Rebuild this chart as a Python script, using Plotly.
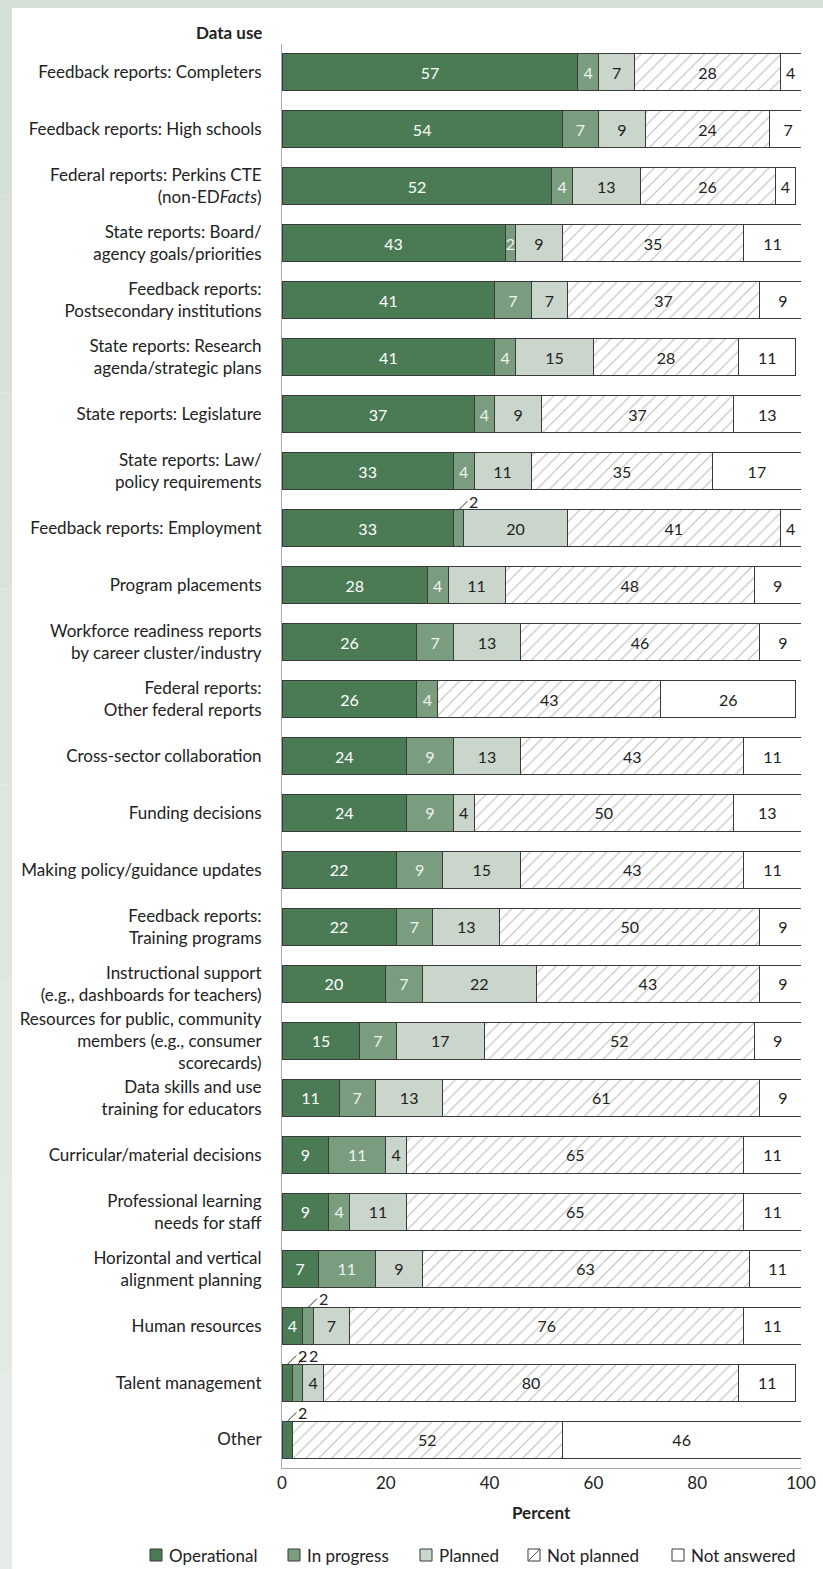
import plotly.graph_objects as go

categories = [
    "Feedback reports: Completers",
    "Feedback reports: High schools",
    "Federal reports: Perkins CTE<br>(non-ED<i>Facts</i>)",
    "State reports: Board/<br>agency goals/priorities",
    "Feedback reports:<br>Postsecondary institutions",
    "State reports: Research<br>agenda/strategic plans",
    "State reports: Legislature",
    "State reports: Law/<br>policy requirements",
    "Feedback reports: Employment",
    "Program placements",
    "Workforce readiness reports<br>by career cluster/industry",
    "Federal reports:<br>Other federal reports",
    "Cross-sector collaboration",
    "Funding decisions",
    "Making policy/guidance updates",
    "Feedback reports:<br>Training programs",
    "Instructional support<br>(e.g., dashboards for teachers)",
    "Resources for public, community<br>members (e.g., consumer<br>scorecards)",
    "Data skills and use<br>training for educators",
    "Curricular/material decisions",
    "Professional learning<br>needs for staff",
    "Horizontal and vertical<br>alignment planning",
    "Human resources",
    "Talent management",
    "Other",
]

operational = [57, 54, 52, 43, 41, 41, 37, 33, 33, 28, 26, 26, 24, 24, 22, 22, 20, 15, 11, 9, 9, 7, 4, 2, 2]
in_progress = [4, 7, 4, 2, 7, 4, 4, 4, 2, 4, 7, 4, 9, 9, 9, 7, 7, 7, 7, 11, 4, 11, 2, 2, 0]
planned = [7, 9, 13, 9, 7, 15, 9, 11, 20, 11, 13, 0, 13, 4, 15, 13, 22, 17, 13, 4, 11, 9, 7, 4, 0]
not_planned = [28, 24, 26, 35, 37, 28, 37, 35, 41, 48, 46, 43, 43, 50, 43, 50, 43, 52, 61, 65, 65, 63, 76, 80, 52]
not_answered = [4, 7, 4, 11, 9, 11, 13, 17, 4, 9, 9, 26, 11, 13, 11, 9, 9, 9, 9, 11, 11, 11, 11, 11, 46]

series_names = ["Operational", "In progress", "Planned", "Not planned", "Not answered"]
series_values = [operational, in_progress, planned, not_planned, not_answered]

# labels drawn outside the bar with a leader line: (category index, series index)
outside_labels = [(8, 1), (22, 1), (23, 0), (23, 1), (24, 0)]

FONT = "Lato"
FS = 17
fill_colors = ["#4a7b54", "#7b9d7f", "#cad6cb", "#ffffff", "#ffffff"]
text_colors = ["#ffffff", "#eef3ee", "#222222", "#222222", "#222222"]
OUTLINE = "#3a3a3a"

fig = go.Figure()
for si, (name, vals) in enumerate(zip(series_names, series_values)):
    texts = []
    for ci, v in enumerate(vals):
        if v == 0 or (ci, si) in outside_labels:
            texts.append("")
        else:
            texts.append(str(v))
    marker = dict(color=fill_colors[si], line=dict(color=OUTLINE, width=1))
    if name == "Not planned":
        marker["pattern"] = dict(shape="/", fgcolor="#777777", bgcolor="#ffffff",
                                 size=9, solidity=0.12, fillmode="overlay")
    tf = dict(family=FONT, size=16, color=text_colors[si])
    if name == "Not planned":
        tf["shadow"] = "0px 0px 2px white"
    fig.add_trace(go.Bar(
        name=name, y=categories, x=vals, orientation="h",
        marker=marker, text=texts, textposition="inside",
        insidetextanchor="middle", textangle=0, textfont=tf,
        hoverinfo="skip", width=0.65, showlegend=False,
    ))

# outside labels with leader lines
for ci, si in outside_labels:
    start = sum(series_values[k][ci] for k in range(si))
    v = series_values[si][ci]
    fig.add_annotation(
        x=start + v / 2, y=categories[ci], yshift=18,
        xref="x", yref="y", text=str(v), showarrow=True,
        arrowhead=0, arrowwidth=1, arrowcolor="#333333",
        ax=9, ay=-9, font=dict(family=FONT, size=16, color="#222222"),
        xanchor="left",
    )

L, R, T, B = 282, 22, 44, 101
W, H = 823, 1569
pw, ph = W - L - R, H - T - B

def px(xp):
    return (xp - L) / pw

def py(yp):
    return (H - B - yp) / ph

# background frame (light green strip top and left)
shapes = [dict(type="rect", xref="paper", yref="paper", x0=px(0), x1=px(W), y0=py(8), y1=py(0),
               fillcolor="#d5e0d7", line=dict(width=0), layer="below")]
strip_cols = ["#d5e0d7", "#d7e1d9", "#d9e3db", "#dbe5dd", "#dde6df", "#e0e8e2", "#e2eae4", "#e5ece7"]
n = len(strip_cols)
for i, c in enumerate(strip_cols):
    shapes.append(dict(type="rect", xref="paper", yref="paper", x0=px(0), x1=px(12),
                       y0=py(H * (i + 1) / n), y1=py(H * i / n),
                       fillcolor=c, line=dict(width=0), layer="below"))

# manual legend (single row as in the original)
legend_square_x = [150, 288, 420, 528, 672]
LEG_Y = 1555
SQ = 12
for si, name in enumerate(series_names):
    x0 = legend_square_x[si]
    shapes.append(dict(type="rect", xref="paper", yref="paper",
                       x0=px(x0), x1=px(x0 + SQ), y0=py(LEG_Y + SQ / 2), y1=py(LEG_Y - SQ / 2),
                       fillcolor=fill_colors[si], line=dict(color=OUTLINE, width=1)))
    if name == "Not planned":
        shapes.append(dict(type="line", xref="paper", yref="paper",
                           x0=px(x0), x1=px(x0 + SQ), y0=py(LEG_Y + SQ / 2), y1=py(LEG_Y - SQ / 2),
                           line=dict(color="#555555", width=1)))
    fig.add_annotation(x=px(x0 + SQ + 5), y=py(LEG_Y), xref="paper", yref="paper",
                       text=name, showarrow=False, xanchor="left", yanchor="middle",
                       font=dict(family=FONT, size=FS, color="#222222"))

fig.update_layout(
    width=W, height=H,
    margin=dict(l=L, r=R, t=T, b=B, autoexpand=False),
    barmode="stack", bargap=0.35,
    paper_bgcolor="white", plot_bgcolor="white",
    font=dict(family=FONT, size=FS, color="#222222"),
    uniformtext=dict(minsize=14, mode="show"),
    showlegend=False,
    shapes=shapes,
    xaxis=dict(range=[0, 100], tickvals=[0, 20, 40, 60, 80, 100], showgrid=False,
               zeroline=False, showline=True, linecolor="#aaaaaa", linewidth=1, automargin=False,
               ticks="", tickfont=dict(family=FONT, size=FS, color="#222222"), fixedrange=True),
    yaxis=dict(categoryorder="array", categoryarray=categories,
               range=[len(categories) - 0.5, -0.5], autorange=False,
               showgrid=False, zeroline=False, showline=True, linecolor="#aaaaaa", linewidth=1,
               ticks="", ticklabelstandoff=16, automargin=False,
               tickfont=dict(family=FONT, size=FS, color="#222222"), fixedrange=True),
)

fig.add_annotation(x=px(264), y=py(33), xref="paper", yref="paper", text="<b>Data use</b>",
                   showarrow=False, xanchor="right", yanchor="middle",
                   font=dict(family=FONT, size=FS, color="#222222"))
fig.add_annotation(x=0.5, y=py(1512), xref="paper", yref="paper", text="<b>Percent</b>",
                   showarrow=False, xanchor="center", yanchor="middle",
                   font=dict(family=FONT, size=FS, color="#222222"))

fig.write_html("out.html")
